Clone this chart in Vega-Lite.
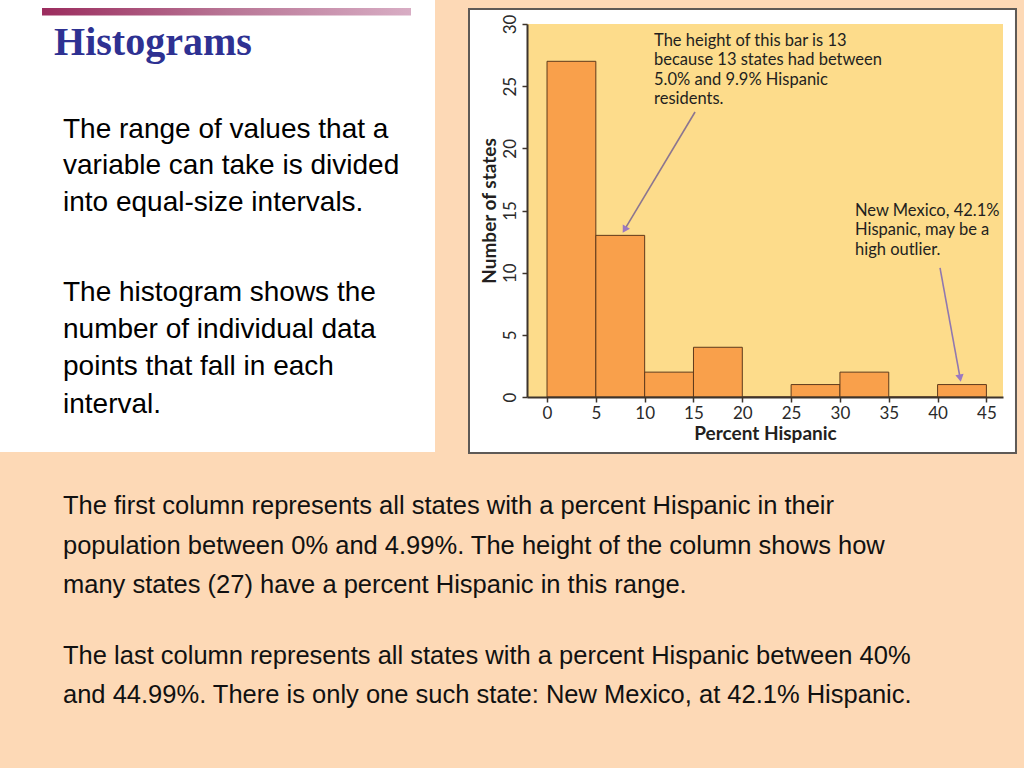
{
  "$schema": "https://vega.github.io/schema/vega-lite/v6.json",
  "width": 476,
  "height": 373,
  "autosize": "none",
  "padding": {"left": 527, "top": 24, "right": 21, "bottom": 371},
  "background": "#FDD9B6",
  "config": {
    "view": {"stroke": null},
    "axis": {
      "titleFont": "Lato", "titleFontWeight": "bold", "titleFontSize": 19, "titleColor": "#231F20",
      "labelFont": "Lato", "labelFontSize": 17, "labelColor": "#2A2A2A",
      "labelFlush": false, "labelOverlap": false,
      "domain": true, "ticks": true,
      "tickSize": 5, "tickColor": "#3D342C", "tickWidth": 1.5,
      "domainColor": "#3D342C", "domainWidth": 2,
      "grid": false
    },
    "axisX": {"titlePadding": 3, "labelPadding": 3},
    "axisY": {"titlePadding": 2, "labelPadding": 3, "labelAngle": -90, "labelAlign": "center", "labelBaseline": "bottom"}
  },
  "datasets": {
    "bins": [
      {"start": 0, "end": 5, "count": 27},
      {"start": 5, "end": 10, "count": 13},
      {"start": 10, "end": 15, "count": 2},
      {"start": 15, "end": 20, "count": 4},
      {"start": 20, "end": 25, "count": 0},
      {"start": 25, "end": 30, "count": 1},
      {"start": 30, "end": 35, "count": 2},
      {"start": 35, "end": 40, "count": 0},
      {"start": 40, "end": 45, "count": 1}
    ],
    "one": [{"item": 1}]
  },
  "layer": [
    {
      "data": {"name": "one"},
      "mark": {"type": "rect", "fill": "#FFFFFF"},
      "encoding": {
        "x": {"datum": -57, "type": "quantitative", "scale": {"domain": [-2.05, 46.7], "nice": false, "zero": false}},
        "x2": {"datum": -11.47},
        "y": {"datum": 33, "type": "quantitative", "scale": {"domain": [0, 30], "nice": false, "zero": false}},
        "y2": {"datum": -4.42}
      }
    },
    {
      "data": {"name": "one"},
      "mark": {"type": "rect", "fill": "#FFFFFF", "stroke": "#5E5A57", "strokeWidth": 2},
      "encoding": {
        "x": {"datum": -7.99, "type": "quantitative", "scale": {"domain": [-2.05, 46.7], "nice": false, "zero": false}},
        "x2": {"datum": 48.03},
        "y": {"datum": 31.21, "type": "quantitative", "scale": {"domain": [0, 30], "nice": false, "zero": false}},
        "y2": {"datum": -4.5}
      }
    },
    {
      "data": {"name": "one"},
      "mark": {"type": "rect", "fill": "#FDDC8B"},
      "encoding": {
        "x": {"datum": -2.05, "type": "quantitative", "scale": {"domain": [-2.05, 46.7], "nice": false, "zero": false}},
        "x2": {"datum": 46.7},
        "y": {"datum": 30, "type": "quantitative", "scale": {"domain": [0, 30], "nice": false, "zero": false}},
        "y2": {"datum": 0}
      }
    },
    {
      "data": {"name": "one"},
      "mark": {
        "type": "rect",
        "fill": {"gradient": "linear", "x1": 0, "y1": 0, "x2": 1, "y2": 0, "stops": [{"offset": 0, "color": "#9B2C5E"}, {"offset": 0.5, "color": "#B87595"}, {"offset": 1, "color": "#D8ADC4"}]}
      },
      "encoding": {
        "x": {"datum": -51.72, "type": "quantitative", "scale": {"domain": [-2.05, 46.7], "nice": false, "zero": false}},
        "x2": {"datum": -13.93},
        "y": {"datum": 31.29, "type": "quantitative", "scale": {"domain": [0, 30], "nice": false, "zero": false}},
        "y2": {"datum": 30.68}
      }
    },
    {
      "data": {"name": "bins"},
      "mark": {"type": "bar", "fill": "#F9A04B", "stroke": "#5E3A1C", "strokeWidth": 1},
      "encoding": {
        "x": {
          "field": "start", "type": "quantitative",
          "scale": {"domain": [-2.05, 46.7], "nice": false, "zero": false},
          "axis": {"values": [0, 5, 10, 15, 20, 25, 30, 35, 40, 45], "title": "Percent Hispanic", "zindex": 1, "domainColor": "#3D342C", "domainWidth": 2, "tickColor": "#3D342C", "tickWidth": 1.5, "tickSize": 5}
        },
        "x2": {"field": "end"},
        "y": {
          "field": "count", "type": "quantitative",
          "scale": {"domain": [0, 30], "nice": false, "zero": false},
          "axis": {"values": [0, 5, 10, 15, 20, 25, 30], "title": "Number of states", "zindex": 1, "domainColor": "#3D342C", "domainWidth": 2, "tickColor": "#3D342C", "tickWidth": 1.5, "tickSize": 5}
        },
        "y2": {"datum": 0}
      }
    },
    {
      "data": {"name": "one"},
      "mark": {"type": "rule", "color": "#8C7690", "strokeWidth": 1.6},
      "encoding": {
        "x": {"datum": 15.16, "type": "quantitative", "scale": {"domain": [-2.05, 46.7], "nice": false, "zero": false}},
        "x2": {"datum": 7.94},
        "y": {"datum": 22.92, "type": "quantitative", "scale": {"domain": [0, 30], "nice": false, "zero": false}},
        "y2": {"datum": 13.46}
      }
    },
    {
      "data": {"name": "one"},
      "mark": {"type": "point", "shape": "triangle-up", "filled": true, "color": "#9B78C2", "size": 70, "opacity": 1, "angle": 210.5},
      "encoding": {
        "x": {"datum": 7.94, "type": "quantitative", "scale": {"domain": [-2.05, 46.7], "nice": false, "zero": false}},
        "y": {"datum": 13.46, "type": "quantitative", "scale": {"domain": [0, 30], "nice": false, "zero": false}}
      }
    },
    {
      "data": {"name": "one"},
      "mark": {"type": "rule", "color": "#9078B0", "strokeWidth": 1.6},
      "encoding": {
        "x": {"datum": 40.25, "type": "quantitative", "scale": {"domain": [-2.05, 46.7], "nice": false, "zero": false}},
        "x2": {"datum": 42.31},
        "y": {"datum": 10.38, "type": "quantitative", "scale": {"domain": [0, 30], "nice": false, "zero": false}},
        "y2": {"datum": 1.52}
      }
    },
    {
      "data": {"name": "one"},
      "mark": {"type": "point", "shape": "triangle-up", "filled": true, "color": "#9B78C2", "size": 70, "opacity": 1, "angle": 169.6},
      "encoding": {
        "x": {"datum": 42.31, "type": "quantitative", "scale": {"domain": [-2.05, 46.7], "nice": false, "zero": false}},
        "y": {"datum": 1.52, "type": "quantitative", "scale": {"domain": [0, 30], "nice": false, "zero": false}}
      }
    },
    {
      "data": {"name": "one"},
      "mark": {"type": "text", "text": ["The height of this bar is 13", "because 13 states had between", "5.0% and 9.9% Hispanic", "residents."], "font": "Lato", "fontSize": 16.5, "color": "#231F20", "align": "left", "baseline": "alphabetic", "lineHeight": 19.3},
      "encoding": {
        "x": {"datum": 10.96, "type": "quantitative", "scale": {"domain": [-2.05, 46.7], "nice": false, "zero": false}},
        "y": {"datum": 28.23, "type": "quantitative", "scale": {"domain": [0, 30], "nice": false, "zero": false}}
      }
    },
    {
      "data": {"name": "one"},
      "mark": {"type": "text", "text": ["New Mexico, 42.1%", "Hispanic, may be a", "high outlier."], "font": "Lato", "fontSize": 16.5, "color": "#231F20", "align": "left", "baseline": "alphabetic", "lineHeight": 19.3},
      "encoding": {
        "x": {"datum": 31.54, "type": "quantitative", "scale": {"domain": [-2.05, 46.7], "nice": false, "zero": false}},
        "y": {"datum": 14.56, "type": "quantitative", "scale": {"domain": [0, 30], "nice": false, "zero": false}}
      }
    },
    {
      "data": {"name": "one"},
      "mark": {"type": "text", "text": "Histograms", "font": "Liberation Serif", "fontWeight": "bold", "fontSize": 40, "color": "#2E3192", "align": "left", "baseline": "alphabetic"},
      "encoding": {
        "x": {"datum": -50.49, "type": "quantitative", "scale": {"domain": [-2.05, 46.7], "nice": false, "zero": false}},
        "y": {"datum": 27.51, "type": "quantitative", "scale": {"domain": [0, 30], "nice": false, "zero": false}}
      }
    },
    {
      "data": {"name": "one"},
      "mark": {"type": "text", "text": ["The range of values that a", "variable can take is divided", "into equal-size intervals."], "font": "Liberation Sans", "fontSize": 28, "color": "#000000", "align": "left", "baseline": "alphabetic", "lineHeight": 36.6},
      "encoding": {
        "x": {"datum": -49.57, "type": "quantitative", "scale": {"domain": [-2.05, 46.7], "nice": false, "zero": false}},
        "y": {"datum": 20.87, "type": "quantitative", "scale": {"domain": [0, 30], "nice": false, "zero": false}}
      }
    },
    {
      "data": {"name": "one"},
      "mark": {"type": "text", "text": ["The histogram shows the", "number of individual data", "points that fall in each", "interval."], "font": "Liberation Sans", "fontSize": 28, "color": "#000000", "align": "left", "baseline": "alphabetic", "lineHeight": 37.4},
      "encoding": {
        "x": {"datum": -49.57, "type": "quantitative", "scale": {"domain": [-2.05, 46.7], "nice": false, "zero": false}},
        "y": {"datum": 7.76, "type": "quantitative", "scale": {"domain": [0, 30], "nice": false, "zero": false}}
      }
    },
    {
      "data": {"name": "one"},
      "mark": {"type": "text", "text": ["The first column represents all states with a percent Hispanic in their", "population between 0% and 4.99%. The height of the column shows how", "many states (27) have a percent Hispanic in this range."], "font": "Liberation Sans", "fontSize": 25.5, "color": "#111111", "align": "left", "baseline": "alphabetic", "lineHeight": 39.3},
      "encoding": {
        "x": {"datum": -49.57, "type": "quantitative", "scale": {"domain": [-2.05, 46.7], "nice": false, "zero": false}},
        "y": {"datum": -9.45, "type": "quantitative", "scale": {"domain": [0, 30], "nice": false, "zero": false}}
      }
    },
    {
      "data": {"name": "one"},
      "mark": {"type": "text", "text": ["The last column represents all states with a percent Hispanic between 40%", "and 44.99%. There is only one such state: New Mexico, at 42.1% Hispanic."], "font": "Liberation Sans", "fontSize": 25.5, "color": "#111111", "align": "left", "baseline": "alphabetic", "lineHeight": 39},
      "encoding": {
        "x": {"datum": -49.57, "type": "quantitative", "scale": {"domain": [-2.05, 46.7], "nice": false, "zero": false}},
        "y": {"datum": -21.47, "type": "quantitative", "scale": {"domain": [0, 30], "nice": false, "zero": false}}
      }
    }
  ]
}
